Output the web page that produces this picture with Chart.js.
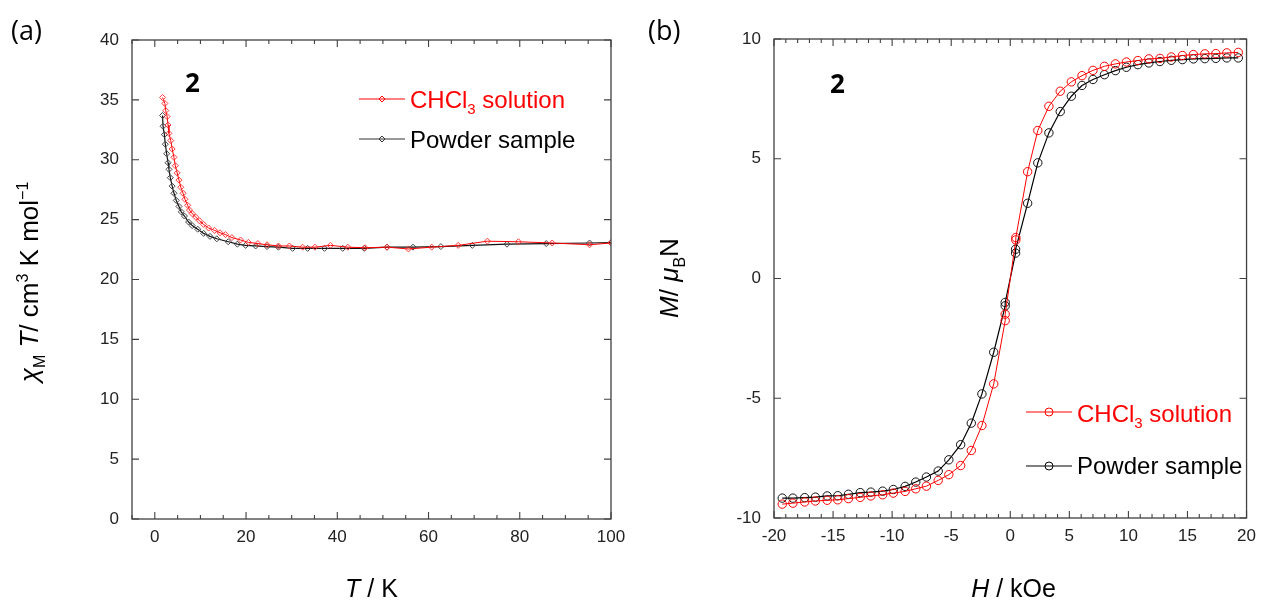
<!DOCTYPE html>
<html><head><meta charset="utf-8">
<script src="https://cdn.jsdelivr.net/npm/chart.js@4.4.1/dist/chart.umd.min.js"></script>
<style>
html,body{margin:0;padding:0;background:#fff;overflow:hidden;width:1264px;height:601px}
#ca{position:absolute;left:0;top:0}
#cb{position:absolute;left:640px;top:0}
</style></head><body>
<canvas id="ca" width="640" height="601"></canvas>
<canvas id="cb" width="624" height="601"></canvas>
<script>
// ---- (a) chi_M T vs T ----
const tempSolution = [1.7, 2.2, 2.4, 2.7, 2.9, 3.1, 3.5, 3.8, 4.2, 4.5, 4.9, 5.3, 5.7, 6.2, 6.6, 7.2, 7.6, 8.2, 9.0, 9.8, 10.7, 11.8, 13.1, 14.3, 15.5, 16.9, 18.8, 20.5, 22.6, 24.6, 27.1, 29.5, 32.4, 35.1, 38.5, 42.3, 46.1, 50.9, 55.6, 60.7, 66.5, 72.9, 79.7, 87.1, 95.3, 100];
const chiTSolution = [35.2, 34.7, 34.1, 33.6, 32.9, 32.2, 31.6, 30.9, 30.2, 29.5, 28.9, 28.3, 27.7, 27.2, 26.7, 26.2, 25.8, 25.5, 25.2, 24.9, 24.6, 24.3, 24.1, 23.9, 23.75, 23.5, 23.3, 23.1, 23.0, 22.9, 22.8, 22.8, 22.7, 22.7, 22.85, 22.7, 22.65, 22.7, 22.55, 22.7, 22.85, 23.2, 23.15, 23.05, 22.9, 23.05];
const tempPowder = [1.7, 1.8, 2.1, 2.3, 2.6, 2.9, 3.1, 3.4, 3.8, 4.2, 4.7, 5.3, 5.8, 6.5, 7.4, 8.2, 9.4, 10.7, 12.1, 13.6, 16.1, 18.1, 19.9, 22.1, 24.6, 27.1, 30.2, 33.5, 37.2, 41.2, 45.9, 50.9, 56.6, 62.7, 69.6, 77.2, 85.8, 95.3, 100];
const chiTPowder = [33.7, 32.8, 32.1, 31.3, 30.5, 29.75, 29.2, 28.5, 27.8, 27.2, 26.6, 26.1, 25.65, 25.3, 24.8, 24.5, 24.2, 23.85, 23.6, 23.4, 23.15, 22.95, 22.85, 22.8, 22.75, 22.7, 22.6, 22.6, 22.6, 22.6, 22.6, 22.7, 22.7, 22.75, 22.85, 22.95, 23.0, 23.05, 23.08];
const tTicks = [0, 20, 40, 60, 80, 100];
const chiTicks = [0, 5, 10, 15, 20, 25, 30, 35, 40];

// ---- (b) M vs H ----
const fieldSolution = [-19.3, -18.4, -17.4, -16.5, -15.5, -14.6, -13.7, -12.7, -11.8, -10.8, -9.9, -8.9, -8.0, -7.1, -6.1, -5.2, -4.2, -3.3, -2.4, -1.4, -0.43, -0.43, 0.47, 0.47, 1.47, 2.33, 3.27, 4.23, 5.17, 6.07, 7.0, 7.97, 8.9, 9.83, 10.8, 11.73, 12.67, 13.63, 14.57, 15.5, 16.47, 17.4, 18.33, 19.3];
const magSolution = [-9.42, -9.38, -9.33, -9.29, -9.26, -9.24, -9.19, -9.14, -9.08, -9.03, -8.96, -8.89, -8.78, -8.67, -8.43, -8.19, -7.81, -7.18, -6.14, -4.4, -1.76, -1.49, 1.61, 1.71, 4.46, 6.18, 7.19, 7.82, 8.21, 8.47, 8.69, 8.86, 8.96, 9.04, 9.1, 9.17, 9.19, 9.25, 9.31, 9.35, 9.38, 9.39, 9.42, 9.44];
const fieldPowder = [-19.3, -18.4, -17.4, -16.5, -15.5, -14.6, -13.7, -12.7, -11.8, -10.8, -9.9, -8.9, -8.0, -7.1, -6.1, -5.2, -4.2, -3.3, -2.4, -1.4, -0.43, -0.43, 0.45, 0.45, 1.47, 2.33, 3.27, 4.23, 5.17, 6.07, 7.0, 7.97, 8.9, 9.83, 10.8, 11.73, 12.67, 13.63, 14.57, 15.5, 16.47, 17.4, 18.33, 19.3];
const magPowder = [-9.17, -9.17, -9.15, -9.13, -9.08, -9.07, -9.01, -8.94, -8.92, -8.88, -8.81, -8.68, -8.5, -8.29, -8.04, -7.57, -6.94, -6.04, -4.82, -3.08, -1.14, -1.0, 1.06, 1.22, 3.14, 4.83, 6.08, 6.97, 7.61, 8.06, 8.31, 8.51, 8.68, 8.82, 8.93, 9.0, 9.06, 9.11, 9.14, 9.17, 9.18, 9.19, 9.21, 9.21];
const hTicks = [-20, -15, -10, -5, 0, 5, 10, 15, 20];
const mTicks = [-10, -5, 0, 5, 10];

const FONT = '"Liberation Sans", Arial, sans-serif';
const LETTER_FONT = '"Open Sans", "Liberation Sans", sans-serif';
const RED = '#ff0000';
const AXIS = '#404040';

function pts(xs, ys){ return xs.map((v,i)=>({x:v, y:ys[i]})); }
function fontStr(seg, size){
  const s = (seg.sub||seg.sup) ? Math.round(size*0.62) : size;
  return (seg.it?'italic ':'')+(seg.bold?'bold ':'')+s+'px '+(seg.fam||FONT);
}
function drawRich(ctx, segs, x, y, size, color, align, rot){
  ctx.save(); ctx.translate(x,y); if(rot) ctx.rotate(rot);
  ctx.textBaseline='alphabetic'; ctx.textAlign='left'; ctx.fillStyle=color;
  let w=0;
  const ws = segs.map(s=>{ ctx.font=fontStr(s,size); const m=ctx.measureText(s.t).width; w+=m; return m; });
  let cx = align==='center' ? -w/2 : 0;
  segs.forEach((s,i)=>{ ctx.font=fontStr(s,size); const dy = s.sub ? size*0.25 : (s.sup ? -size*0.4 : 0); ctx.fillText(s.t, cx, dy); cx+=ws[i]; });
  ctx.restore();
}
function marker(ctx, style, cx, cy, r, color){
  ctx.save(); ctx.strokeStyle=color; ctx.lineWidth=1; ctx.beginPath();
  if(style==='circle'){ ctx.arc(cx,cy,r,0,Math.PI*2); }
  else { ctx.moveTo(cx,cy-r); ctx.lineTo(cx+r,cy); ctx.lineTo(cx,cy+r); ctx.lineTo(cx-r,cy); ctx.closePath(); }
  ctx.stroke(); ctx.restore();
}

const framePlugin = {
  id:'frame',
  afterDatasetsDraw(chart, args, o){
    const {ctx, chartArea:a} = chart; const x = chart.scales.x, y = chart.scales.y;
    ctx.save(); ctx.strokeStyle=AXIS; ctx.lineWidth=1.3;
    ctx.strokeRect(a.left, a.top, a.right-a.left, a.bottom-a.top);
    ctx.lineWidth=1.1; ctx.beginPath();
    const vt=(px,len)=>{ ctx.moveTo(px,a.bottom); ctx.lineTo(px,a.bottom-len); ctx.moveTo(px,a.top); ctx.lineTo(px,a.top+len); };
    const ht=(py,len)=>{ ctx.moveTo(a.left,py); ctx.lineTo(a.left+len,py); ctx.moveTo(a.right,py); ctx.lineTo(a.right-len,py); };
    x.ticks.forEach(t=>vt(x.getPixelForValue(t.value), o.major));
    for(let v=Math.ceil(x.min/o.xMinor)*o.xMinor; v<=x.max+1e-9; v+=o.xMinor) vt(x.getPixelForValue(v), o.minor);
    y.ticks.forEach(t=>ht(y.getPixelForValue(t.value), o.major));
    ctx.stroke(); ctx.restore();
  }
};

function makeScales(xMin, xMax, xT, yMin, yMax, yT, yWidth, xHeight){
  const tickFont = {family: FONT, size: 17};
  return {
    x: { type:'linear', min:xMin, max:xMax,
      afterBuildTicks: s=>{ s.ticks = xT.map(v=>({value:v})); },
      afterFit: s=>{ s.height = xHeight; },
      grid:{display:false, drawTicks:false}, border:{display:false},
      ticks:{ font:tickFont, color:'#222', padding:8, maxRotation:0, autoSkip:false } },
    y: { type:'linear', min:yMin, max:yMax,
      afterBuildTicks: s=>{ s.ticks = yT.map(v=>({value:v})); },
      afterFit: s=>{ s.width = yWidth; },
      grid:{display:false, drawTicks:false}, border:{display:false},
      ticks:{ font:tickFont, color:'#222', padding:13, autoSkip:false } }
  };
}

// ---------- Chart (a) ----------
const annotA = {
  id:'annotA',
  afterDraw(chart){
    const ctx = chart.ctx;
    drawRich(ctx, [{t:'(a)', fam:LETTER_FONT}], 11, 40, 27, '#000', 'left');
    drawRich(ctx, [{t:'2', bold:true, fam:LETTER_FONT}], 185, 92, 26, '#000', 'left');
    drawRich(ctx, [{t:'T', it:true},{t:' / K'}], 371.5, 597, 25, '#000', 'center');
    drawRich(ctx, [{t:'χ', it:true},{t:'M', sub:true},{t:' '},{t:'T', it:true},{t:'/ cm'},{t:'3', sup:true},{t:' K mol'},{t:'−1', sup:true}], 38, 282, 26, '#000', 'center', -Math.PI/2);
    // legend
    ctx.save(); ctx.lineWidth=1;
    ctx.strokeStyle=RED; ctx.beginPath(); ctx.moveTo(359,99); ctx.lineTo(405,99); ctx.stroke();
    marker(ctx,'diamond',382,99,3,RED);
    ctx.strokeStyle='#333'; ctx.beginPath(); ctx.moveTo(359,139); ctx.lineTo(405,139); ctx.stroke();
    marker(ctx,'diamond',382,139,3,'#333');
    ctx.restore();
    drawRich(ctx, [{t:'CHCl'},{t:'3', sub:true},{t:' solution'}], 410, 108, 24, RED, 'left');
    drawRich(ctx, [{t:'Powder sample'}], 410, 148, 24, '#000', 'left');
  }
};

new Chart(document.getElementById('ca'), {
  type:'line',
  data:{ datasets:[
    { label:'CHCl3 solution', data:pts(tempSolution, chiTSolution), borderColor:RED, borderWidth:1,
      pointStyle:'rectRot', pointRadius:3, pointBorderWidth:1, pointBorderColor:'rgba(255,40,40,0.9)', pointBackgroundColor:'rgba(0,0,0,0)' },
    { label:'Powder sample', data:pts(tempPowder, chiTPowder), borderColor:'#111', borderWidth:1.2,
      pointStyle:'rectRot', pointRadius:3, pointBorderWidth:1, pointBorderColor:'#444', pointBackgroundColor:'rgba(0,0,0,0)' }
  ]},
  options:{
    responsive:false, animation:false, parsing:true,
    layout:{ padding:{ left:0, right:29, top:40, bottom:0 } },
    scales: makeScales(-5, 100, tTicks, 0, 40, chiTicks, 132, 82),
    plugins:{ legend:{display:false}, tooltip:{enabled:false}, frame:{major:7, minor:4, xMinor:5} },
    elements:{ line:{tension:0} }
  },
  plugins:[framePlugin, annotA]
});

// ---------- Chart (b) ----------
const annotB = {
  id:'annotB',
  afterDraw(chart){
    const ctx = chart.ctx;
    drawRich(ctx, [{t:'(b)', fam:LETTER_FONT}], 8, 40, 27, '#000', 'left');
    drawRich(ctx, [{t:'2', bold:true, fam:LETTER_FONT}], 190, 93, 26, '#000', 'left');
    drawRich(ctx, [{t:'H', it:true},{t:' / kOe'}], 373.5, 597, 25, '#000', 'center');
    drawRich(ctx, [{t:'M', it:true},{t:'/ '},{t:'μ', it:true},{t:'B', sub:true},{t:'N'}], 38, 278, 26, '#000', 'center', -Math.PI/2);
    ctx.save(); ctx.lineWidth=1;
    ctx.strokeStyle=RED; ctx.beginPath(); ctx.moveTo(386,412); ctx.lineTo(432,412); ctx.stroke();
    marker(ctx,'circle',409,412,4,RED);
    ctx.strokeStyle='#000'; ctx.beginPath(); ctx.moveTo(386,466); ctx.lineTo(432,466); ctx.stroke();
    marker(ctx,'circle',409,466,4,'#000');
    ctx.restore();
    drawRich(ctx, [{t:'CHCl'},{t:'3', sub:true},{t:' solution'}], 437, 422, 24, RED, 'left');
    drawRich(ctx, [{t:'Powder sample'}], 437, 474, 24, '#000', 'left');
  }
};

new Chart(document.getElementById('cb'), {
  type:'line',
  data:{ datasets:[
    { label:'CHCl3 solution', data:pts(fieldSolution, magSolution), borderColor:RED, borderWidth:1,
      pointStyle:'circle', pointRadius:4.2, pointBorderWidth:1, pointBorderColor:RED, pointBackgroundColor:'rgba(0,0,0,0)' },
    { label:'Powder sample', data:pts(fieldPowder, magPowder), borderColor:'#000', borderWidth:1.2,
      pointStyle:'circle', pointRadius:4.2, pointBorderWidth:1, pointBorderColor:'#111', pointBackgroundColor:'rgba(0,0,0,0)' }
  ]},
  options:{
    responsive:false, animation:false,
    layout:{ padding:{ left:0, right:11, top:39, bottom:0 } },
    scales: makeScales(-20, 20, hTicks, -10, 10, mTicks, 134, 83),
    plugins:{ legend:{display:false}, tooltip:{enabled:false}, frame:{major:7, minor:4, xMinor:1} },
    elements:{ line:{tension:0} }
  },
  plugins:[framePlugin, annotB]
});
</script>
</body></html>
